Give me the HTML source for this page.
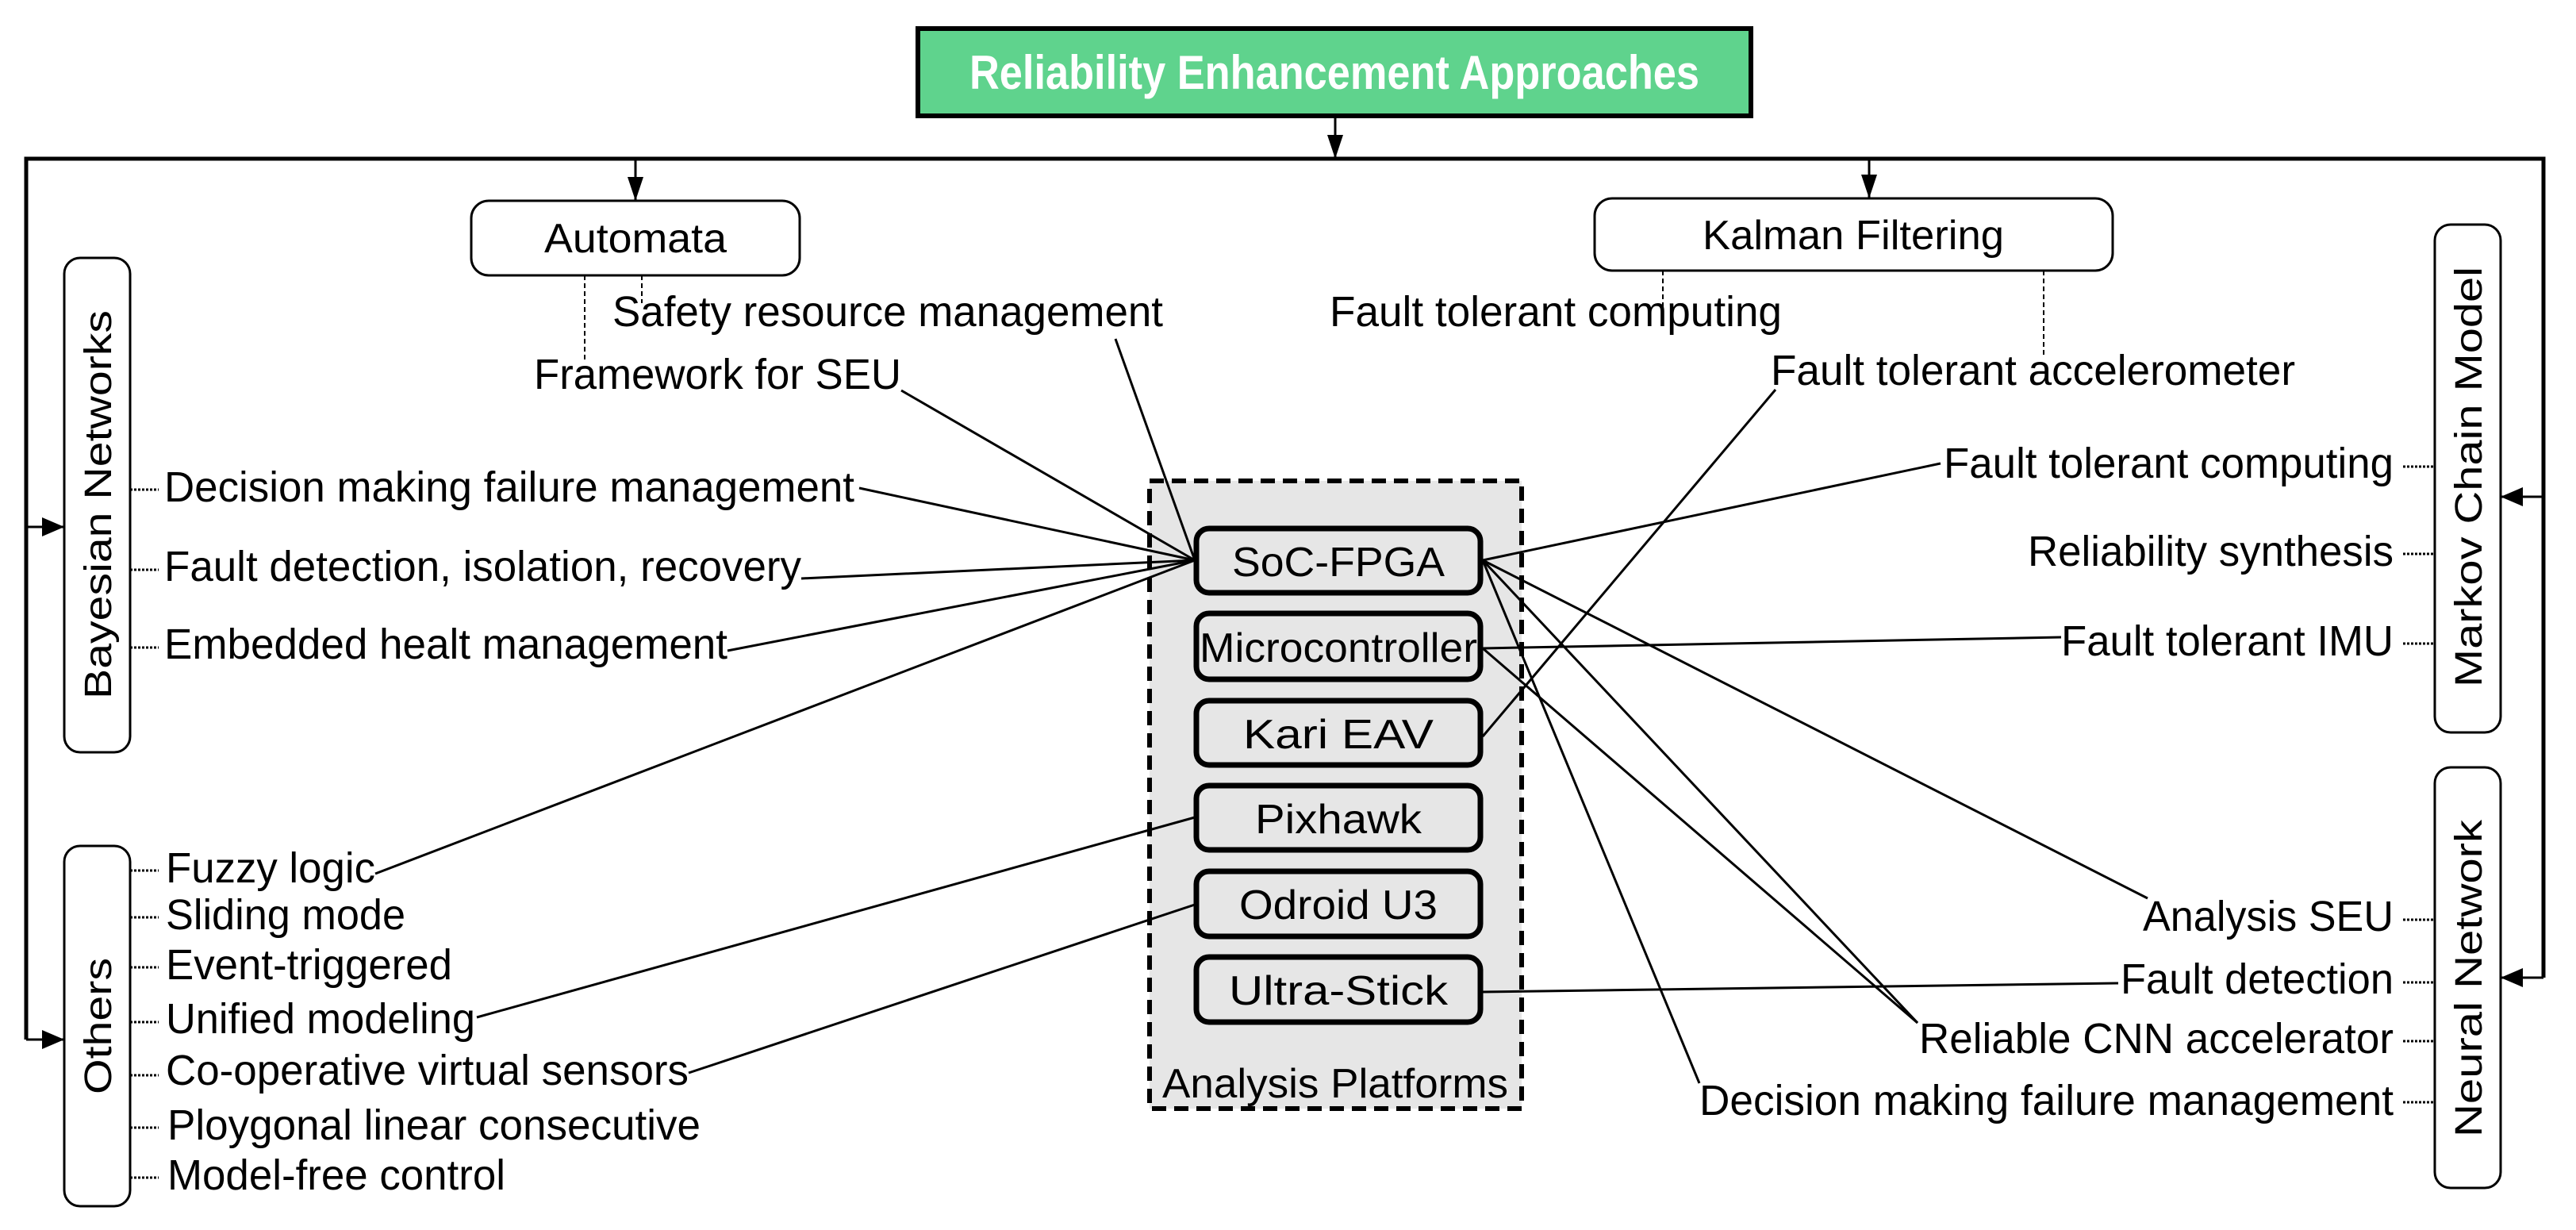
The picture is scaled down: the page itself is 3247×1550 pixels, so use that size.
<!DOCTYPE html>
<html><head><meta charset="utf-8"><style>html,body{margin:0;padding:0;background:#fff}svg{display:block}text{font-family:"Liberation Sans",Arial,sans-serif;fill:#000}</style></head>
<body>
<svg width="3247" height="1550" viewBox="0 0 3247 1550" xmlns="http://www.w3.org/2000/svg">
<!-- title -->
<rect x="1157" y="36" width="1050" height="110" fill="#5fd38d" stroke="#000" stroke-width="6"/>
<text x="1682" y="112" text-anchor="middle" font-size="60" font-weight="bold" style="fill:#fff" textLength="920" lengthAdjust="spacingAndGlyphs">Reliability Enhancement Approaches</text>
<!-- main lines -->
<g stroke="#000" stroke-width="5" fill="none">
<polyline points="33,1310 33,200 3206,200 3206,1232"/>
</g>
<g stroke="#000" stroke-width="3" fill="none">
<line x1="1683" y1="148" x2="1683" y2="200"/>
<line x1="801" y1="200" x2="801" y2="253"/>
<line x1="2356" y1="200" x2="2356" y2="250"/>
<line x1="33" y1="664" x2="81" y2="664"/>
<line x1="33" y1="1310" x2="81" y2="1310"/>
<line x1="3206" y1="626" x2="3152" y2="626"/>
<line x1="3206" y1="1232" x2="3152" y2="1232"/>
</g>
<g fill="#000">
<path d="M1673,170 L1693,170 L1683,200 z"/>
<path d="M791,223 L811,223 L801,253 z"/>
<path d="M2346,220 L2366,220 L2356,250 z"/>
<path d="M53,652 L53,676 L81,664 z"/>
<path d="M53,1298 L53,1322 L81,1310 z"/>
<path d="M3180,614 L3180,638 L3152,626 z"/>
<path d="M3180,1220 L3180,1244 L3152,1232 z"/>
</g>
<!-- category boxes -->
<g fill="#fff" stroke="#000" stroke-width="3">
<rect x="594" y="253" width="414" height="94" rx="22"/>
<rect x="2010" y="250" width="653" height="91" rx="22"/>
<rect x="81" y="325" width="83" height="623" rx="20"/>
<rect x="81" y="1066" width="83" height="454" rx="20"/>
<rect x="3069" y="283" width="83" height="640" rx="20"/>
<rect x="3069" y="967" width="83" height="530" rx="20"/>
</g>
<text x="801" y="318" text-anchor="middle" font-size="52" textLength="230" lengthAdjust="spacingAndGlyphs">Automata</text>
<text x="2336" y="314" text-anchor="middle" font-size="52" textLength="380" lengthAdjust="spacingAndGlyphs">Kalman Filtering</text>
<text transform="translate(140,636) rotate(-90)" text-anchor="middle" font-size="48" textLength="490" lengthAdjust="spacingAndGlyphs">Bayesian Networks</text>
<text transform="translate(140,1293) rotate(-90)" text-anchor="middle" font-size="48" textLength="172" lengthAdjust="spacingAndGlyphs">Others</text>
<text transform="translate(3128,601) rotate(-90)" text-anchor="middle" font-size="48" textLength="530" lengthAdjust="spacingAndGlyphs">Markov Chain Model</text>
<text transform="translate(3128,1233) rotate(-90)" text-anchor="middle" font-size="48" textLength="400" lengthAdjust="spacingAndGlyphs">Neural Network</text>
<!-- dashed leaders from top boxes -->
<g stroke="#000" stroke-width="2" stroke-dasharray="6,4" fill="none">
<line x1="809" y1="347" x2="809" y2="382"/>
<line x1="737" y1="347" x2="737" y2="456"/>
<line x1="2096" y1="341" x2="2096" y2="392"/>
<line x1="2576" y1="341" x2="2576" y2="450"/>
</g>
<!-- dotted leaders side -->
<g stroke="#000" stroke-width="3" stroke-dasharray="3,2" fill="none">
<line x1="164" y1="617" x2="200" y2="617"/>
<line x1="164" y1="718" x2="200" y2="718"/>
<line x1="164" y1="816" x2="200" y2="816"/>
<line x1="164" y1="1097" x2="200" y2="1097"/>
<line x1="164" y1="1156" x2="200" y2="1156"/>
<line x1="164" y1="1219" x2="200" y2="1219"/>
<line x1="164" y1="1288" x2="200" y2="1288"/>
<line x1="164" y1="1355" x2="200" y2="1355"/>
<line x1="164" y1="1421" x2="200" y2="1421"/>
<line x1="164" y1="1484" x2="200" y2="1484"/>
<line x1="3029" y1="588" x2="3069" y2="588"/>
<line x1="3029" y1="698" x2="3069" y2="698"/>
<line x1="3029" y1="811" x2="3069" y2="811"/>
<line x1="3029" y1="1159" x2="3069" y2="1159"/>
<line x1="3029" y1="1238" x2="3069" y2="1238"/>
<line x1="3029" y1="1312" x2="3069" y2="1312"/>
<line x1="3029" y1="1389" x2="3069" y2="1389"/>
</g>
<!-- analysis platforms -->
<rect x="1449" y="606" width="469" height="791" fill="#e6e6e6" stroke="#000" stroke-width="6" stroke-dasharray="18,10"/>
<text x="1683" y="1383" text-anchor="middle" font-size="52" textLength="436" lengthAdjust="spacingAndGlyphs">Analysis Platforms</text>
<g fill="#e6e6e6" stroke="#000" stroke-width="7">
<rect x="1508" y="666" width="358" height="81" rx="16"/>
<rect x="1508" y="773" width="358" height="83" rx="16"/>
<rect x="1508" y="883" width="358" height="81" rx="16"/>
<rect x="1508" y="990" width="358" height="81" rx="16"/>
<rect x="1508" y="1098" width="358" height="82" rx="16"/>
<rect x="1508" y="1206" width="358" height="82" rx="16"/>
</g>
<g font-size="52" text-anchor="middle">
<text x="1687" y="726" textLength="268" lengthAdjust="spacingAndGlyphs">SoC-FPGA</text>
<text x="1687" y="834" textLength="350" lengthAdjust="spacingAndGlyphs">Microcontroller</text>
<text x="1687" y="943" textLength="240" lengthAdjust="spacingAndGlyphs">Kari EAV</text>
<text x="1687" y="1050" textLength="210" lengthAdjust="spacingAndGlyphs">Pixhawk</text>
<text x="1687" y="1158" textLength="250" lengthAdjust="spacingAndGlyphs">Odroid U3</text>
<text x="1687" y="1266" textLength="276" lengthAdjust="spacingAndGlyphs">Ultra-Stick</text>
</g>
<!-- connectors -->
<g stroke="#000" stroke-width="3" fill="none">
<line x1="1136" y1="492" x2="1506" y2="706"/>
<line x1="1406" y1="427" x2="1506" y2="706"/>
<line x1="1083" y1="615" x2="1506" y2="706"/>
<line x1="1010" y1="729" x2="1506" y2="706"/>
<line x1="917" y1="820" x2="1506" y2="706"/>
<line x1="473" y1="1101" x2="1506" y2="706"/>
<line x1="1869" y1="706" x2="2446" y2="584"/>
<line x1="1869" y1="706" x2="2707" y2="1132"/>
<line x1="1869" y1="706" x2="2417" y2="1289"/>
<line x1="1869" y1="706" x2="2142" y2="1365"/>
<line x1="1869" y1="817" x2="2598" y2="803"/>
<line x1="1869" y1="817" x2="2417" y2="1289"/>
<line x1="1869" y1="928" x2="2238" y2="491"/>
<line x1="1506" y1="1030" x2="601" y2="1282"/>
<line x1="1506" y1="1140" x2="868" y2="1352"/>
<line x1="1869" y1="1250" x2="2670" y2="1239"/>
</g>
<!-- labels -->
<g font-size="54">
<text x="772" y="411" textLength="694" lengthAdjust="spacingAndGlyphs">Safety resource management</text>
<text x="673" y="490" textLength="463" lengthAdjust="spacingAndGlyphs">Framework for SEU</text>
<text x="1676" y="411" textLength="570" lengthAdjust="spacingAndGlyphs">Fault tolerant computing</text>
<text x="2232" y="485" textLength="661" lengthAdjust="spacingAndGlyphs">Fault tolerant accelerometer</text>
<text x="207" y="632" textLength="870" lengthAdjust="spacingAndGlyphs">Decision making failure management</text>
<text x="207" y="732" textLength="803" lengthAdjust="spacingAndGlyphs">Fault detection, isolation, recovery</text>
<text x="207" y="830" textLength="710" lengthAdjust="spacingAndGlyphs">Embedded healt management</text>
<text x="209" y="1112" textLength="264" lengthAdjust="spacingAndGlyphs">Fuzzy logic</text>
<text x="209" y="1171" textLength="302" lengthAdjust="spacingAndGlyphs">Sliding mode</text>
<text x="209" y="1234" textLength="361" lengthAdjust="spacingAndGlyphs">Event-triggered</text>
<text x="209" y="1302" textLength="390" lengthAdjust="spacingAndGlyphs">Unified modeling</text>
<text x="209" y="1367" textLength="659" lengthAdjust="spacingAndGlyphs">Co-operative virtual sensors</text>
<text x="211" y="1436" textLength="672" lengthAdjust="spacingAndGlyphs">Ploygonal linear consecutive</text>
<text x="211" y="1499" textLength="426" lengthAdjust="spacingAndGlyphs">Model-free control</text>
<text x="3017" y="602" text-anchor="end" textLength="567" lengthAdjust="spacingAndGlyphs">Fault tolerant computing</text>
<text x="3017" y="713" text-anchor="end" textLength="461" lengthAdjust="spacingAndGlyphs">Reliability synthesis</text>
<text x="3017" y="826" text-anchor="end" textLength="419" lengthAdjust="spacingAndGlyphs">Fault tolerant IMU</text>
<text x="3017" y="1173" text-anchor="end" textLength="316" lengthAdjust="spacingAndGlyphs">Analysis SEU</text>
<text x="3017" y="1252" text-anchor="end" textLength="344" lengthAdjust="spacingAndGlyphs">Fault detection</text>
<text x="3017" y="1327" text-anchor="end" textLength="598" lengthAdjust="spacingAndGlyphs">Reliable CNN accelerator</text>
<text x="3017" y="1405" text-anchor="end" textLength="875" lengthAdjust="spacingAndGlyphs">Decision making failure management</text>
</g>
</svg>
</body></html>
